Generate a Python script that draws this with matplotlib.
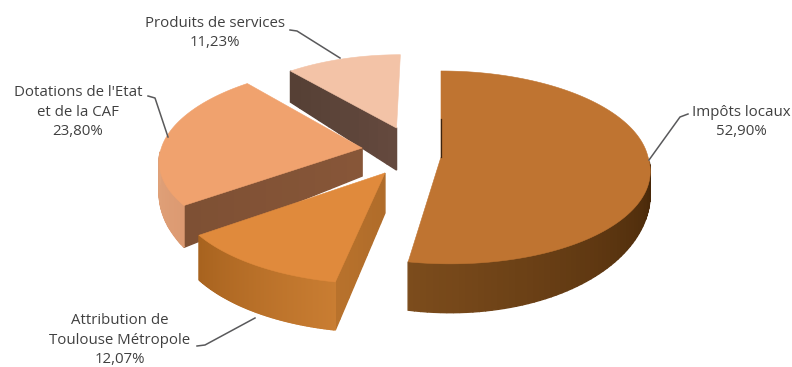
import numpy as np
import matplotlib
matplotlib.use("Agg")
import matplotlib.pyplot as plt
from matplotlib.colors import to_rgb

labels = ["Impôts locaux", "Attribution de\nToulouse Métropole", "Dotations de l'Etat\net de la CAF", "Produits de services"]
values = [52.90, 12.07, 23.80, 11.23]

top_colors = ["#bf7431", "#e08a3c", "#f0a26e", "#f3c3a7"]
arc_colors = [("#7c4c1c", "#452608"), ("#c97d32", "#a8631f"), ("#dc9a72", "#e0a27a"), None]
cut_colors = [None, ("#b06c2a", "#b8722c"), ("#875638", "#7e5034"), ("#64493e", "#564035")]

# plane offset of each slice, radius, wall depth at the apex, how fast it grows
explode = [(0.0, 0.0), (-0.266, -0.165), (-0.385, 0.095), (-0.222, 0.314)]
radius = [1.0, 1.0, 0.98, 0.9]
depth0 = [18, 40, 28, 42]
depth_k = [255, 65, 212, 170]
arc_stop = [-2, None, -178, None]
layer = [4, 3, 2, 1]
# the front of the big slice leans to the right in the picture
lean = [0.04, 0, 0, 0]

# pie centre in pixels and perspective
cx, cy = 441, 157
rx, ry = 207, 95.3
k = 0.108

label_xy = [(741, 122), (120, 340), (78, 112), (215, 33)]
leaders = [
    [(649, 160), (680, 117), (688, 114)],
    [(255, 318), (205, 345), (197, 346)],
    [(168, 137), (155, 98), (148, 96)],
    [(340, 58), (297, 31), (290, 30)],
]


def project(u, v):
    s = 1 / (1 + k * v)
    return cx + rx * u * s, cy - ry * v * s, s


def blend(a, b, t):
    a, b = np.array(to_rgb(a)), np.array(to_rgb(b))
    return a + (b - a) * t


def wall(ax, x, y, d, colors, z):
    # strip of small quads so the wall gets a gradient
    n = len(x) - 1
    for i in range(n):
        c = blend(colors[0], colors[1], i / max(n - 1, 1))
        ax.fill([x[i], x[i + 1], x[i + 1], x[i]],
                [y[i], y[i + 1], y[i + 1] + d[i + 1], y[i] + d[i]],
                color=c, lw=1.0, zorder=z)


fig = plt.figure(figsize=(7.92, 3.67), dpi=100)
ax = fig.add_axes([0, 0, 1, 1])
ax.set_xlim(0, 792)
ax.set_ylim(367, 0)
ax.axis("off")

shares = np.array(values) / sum(values) * 360
ends = 90 - np.cumsum(shares)
starts = ends + shares

# back slices first
for i in [3, 2, 1, 0]:
    z = layer[i]
    du, dv = explode[i]
    t = np.radians(np.linspace(starts[i], ends[i], 120))
    v = dv + radius[i] * np.sin(t)
    u = du + radius[i] * np.cos(t) - lean[i] * np.minimum(v, 0)
    x, y, s = project(u, v)
    ax0, ay0, s0 = project(du, dv)
    d = np.clip(depth0[i] + depth_k[i] * (s - s0), 0, None)

    if cut_colors[i] is not None:
        # straight cut face, apex to the corner on the camera side
        w = np.linspace(0, 1, 12)
        xc = ax0 + (x[0] - ax0) * w
        yc = ay0 + (y[0] - ay0) * w
        dc = depth0[i] + (d[0] - depth0[i]) * w
        wall(ax, xc, yc, dc, cut_colors[i], z)

    if arc_colors[i] is not None:
        stop = arc_stop[i]
        ang = np.degrees(t)
        if stop is None:
            keep = np.ones_like(ang, dtype=bool)
        elif i == 0:
            keep = ang <= stop
        else:
            keep = ang >= stop
        idx = np.where(keep)[0]
        order = idx[::-1] if i == 0 else idx
        wall(ax, x[order], y[order], d[order], arc_colors[i], z)

    ax.fill(np.r_[ax0, x], np.r_[ay0, y], color=top_colors[i], lw=0.4, zorder=z + 0.5)

# thin dark sliver of the back cut of the big slice
xs, ys, _ = project(np.zeros(2), np.array([0.42, 0.0]))
ax.plot(xs - 0.5, ys, color="#3c2410", lw=0.9, zorder=5)

for txt, val, (lx, ly), pts in zip(labels, values, label_xy, leaders):
    s = txt + "\n" + f"{val:.2f}%".replace(".", ",")
    ax.text(lx, ly, s, ha="center", va="center", fontsize=10.8, family="Open Sans",
            color="#404040", linespacing=1.38, zorder=8)
    ax.plot(*zip(*pts), color="#59595b", lw=1.1, zorder=7)

fig.savefig("out.png", dpi=100)
